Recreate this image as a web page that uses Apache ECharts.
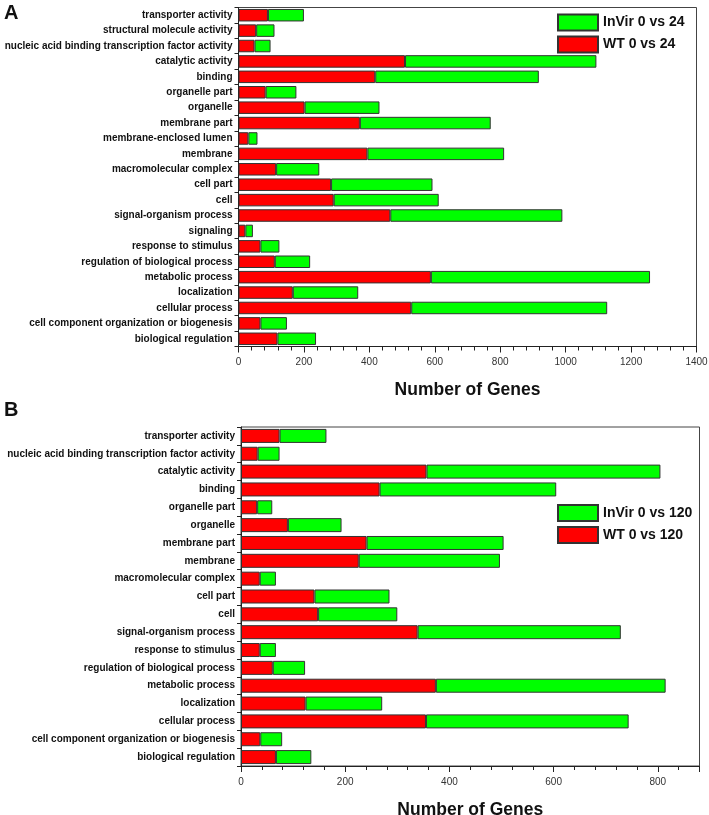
<!DOCTYPE html>
<html><head><meta charset="utf-8">
<script src="https://cdn.jsdelivr.net/npm/echarts@6/dist/echarts.min.js"></script>
<style>html,body{margin:0;padding:0;background:#fff}#c{width:709px;height:815px}</style>
</head><body><div id="c"></div>
<script>
const catsA = ["transporter activity","structural molecule activity","nucleic acid binding transcription factor activity","catalytic activity","binding","organelle part","organelle","membrane part","membrane-enclosed lumen","membrane","macromolecular complex","cell part","cell","signal-organism process","signaling","response to stimulus","regulation of biological process","metabolic process","localization","cellular process","cell component organization or biogenesis","biological regulation"];
const wtA    = [90,54,49,509,418,83,202,371,30,394,115,283,291,464,21,67,111,588,166,528,67,119];
const invirA = [110,56,49,585,500,94,229,400,28,418,132,310,321,526,23,58,108,670,200,599,81,118];

const catsB = ["transporter activity","nucleic acid binding transcription factor activity","catalytic activity","binding","organelle part","organelle","membrane part","membrane","macromolecular complex","cell part","cell","signal-organism process","response to stimulus","regulation of biological process","metabolic process","localization","cellular process","cell component organization or biogenesis","biological regulation"];
const wtB    = [74,32,356,266,31,90,241,226,36,141,148,339,36,61,374,124,355,37,67];
const invirB = [90,42,449,339,29,103,263,271,31,144,152,390,31,62,441,147,389,42,68];

const xTicksA = {min:0, max:1400, interval:200};
const xTicksB = {min:0, max:880, interval:200};

const FONT = '"Liberation Sans", Arial, sans-serif';
const chart = echarts.init(document.getElementById('c'));

function xAxis(idx, t){
  return {
    type:'value', gridIndex:idx, min:t.min, max:t.max, interval:t.interval,
    name:'Number of Genes', nameLocation:'middle', nameGap:35,
    nameTextStyle:{fontFamily:FONT, fontWeight:'bold', fontSize:17.5, color:'#111'},
    axisLine:{show:true, lineStyle:{color:'#222', width:1}},
    axisTick:{show:true, length:6, lineStyle:{color:'#222'}},
    minorTick:{show:true, splitNumber:5, length:4, lineStyle:{color:'#222'}},
    axisLabel:{fontFamily:FONT, fontSize:10, color:'#333', margin:11, showMaxLabel: idx===0,
      formatter: v => String(v)},
    splitLine:{show:false}
  };
}
function yAxis(idx, cats){
  return {
    type:'category', gridIndex:idx, data:cats, inverse:true,
    axisLine:{show:true, lineStyle:{color:'#222', width:1}},
    axisTick:{show:true, length:4, lineStyle:{color:'#222'}},
    axisLabel:{fontFamily:FONT, fontWeight:'bold', fontSize:10, color:'#111', margin:6}
  };
}
const barStyle = c => ({color:c, borderColor:'#333', borderWidth:1});
const legendText = {fontFamily:FONT, fontWeight:'bold', fontSize:14, color:'#111'};

chart.setOption({
  animation:false,
  backgroundColor:'#fff',
  title:[
    {text:'A', left:4, top:3, padding:0, textStyle:{fontFamily:FONT, fontWeight:'bold', fontSize:20, color:'#111'}},
    {text:'B', left:4, top:400, padding:0, textStyle:{fontFamily:FONT, fontWeight:'bold', fontSize:20, color:'#111'}}
  ],
  legend:[
    {data:['InVir 0 vs 24','WT 0 vs 24'], orient:'vertical', left:557, top:13.5, padding:0, itemWidth:40, itemHeight:16, itemGap:4,
     textStyle:legendText, selectedMode:false, icon:'rect'},
    {data:['InVir 0 vs 120','WT 0 vs 120'], orient:'vertical', left:557, top:504, padding:0, itemWidth:40, itemHeight:16, itemGap:4,
     textStyle:legendText, selectedMode:false, icon:'rect'}
  ],
  grid:[
    {left:238.5, top:7.5, width:458, height:339, show:true, borderColor:'#444', borderWidth:1, backgroundColor:'transparent', outerBoundsMode:'none', containLabel:false},
    {left:241, top:427, width:458.5, height:339, show:true, borderColor:'#444', borderWidth:1, backgroundColor:'transparent', outerBoundsMode:'none', containLabel:false}
  ],
  xAxis:[xAxis(0,xTicksA), xAxis(1,xTicksB)],
  yAxis:[yAxis(0,catsA), yAxis(1,catsB)],
  series:[
    {name:'WT 0 vs 24', type:'bar', stack:'a', xAxisIndex:0, yAxisIndex:0, data:wtA, barWidth:12.5, itemStyle:barStyle('#ff0000')},
    {name:'InVir 0 vs 24', type:'bar', stack:'a', xAxisIndex:0, yAxisIndex:0, data:invirA, barWidth:12.5, itemStyle:barStyle('#00ff00')},
    {name:'WT 0 vs 120', type:'bar', stack:'b', xAxisIndex:1, yAxisIndex:1, data:wtB, barWidth:14, itemStyle:barStyle('#ff0000')},
    {name:'InVir 0 vs 120', type:'bar', stack:'b', xAxisIndex:1, yAxisIndex:1, data:invirB, barWidth:14, itemStyle:barStyle('#00ff00')}
  ]
});
</script></body></html>
